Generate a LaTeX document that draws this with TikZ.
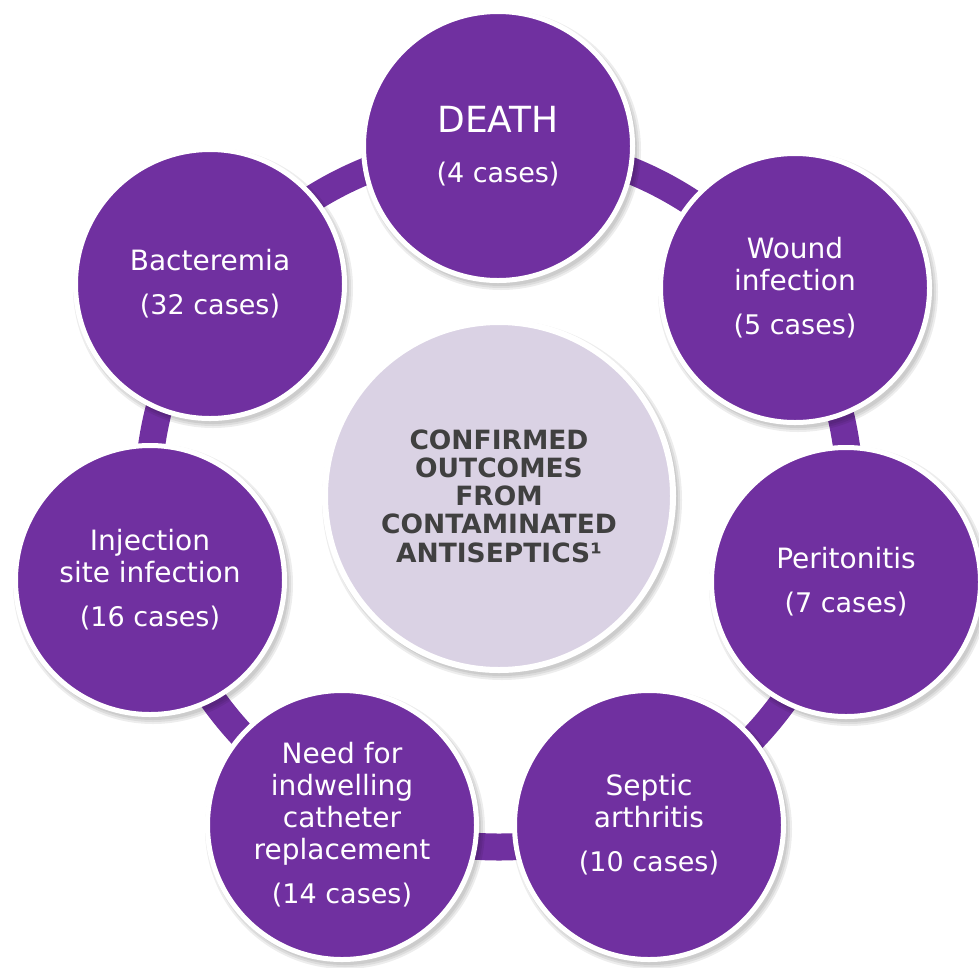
\documentclass[tikz,border=0pt]{standalone}
\usepackage{fontspec}
\setmainfont{DejaVu Sans}
\usetikzlibrary{backgrounds}
\definecolor{purp}{HTML}{7030A0}
\definecolor{lav}{HTML}{DAD2E4}
\definecolor{dtext}{HTML}{404040}
\newcommand\casesline[1]{{\fontsize{27}{32}\selectfont #1}}
\begin{document}
\begin{tikzpicture}[x=1pt,y=-1pt,
  outc/.style={circle, fill=purp, draw=white, line width=5pt, minimum size=269pt,
    inner sep=0pt, text=white, align=center, font=\fontsize{28}{32}\selectfont},
  ctrc/.style={circle, fill=lav, draw=white, line width=6pt, minimum size=348pt, inner sep=0pt,
    text=dtext, align=center, font=\bfseries\fontsize{26.5}{28.3}\selectfont},
  shad/.style={fill=black, opacity=0.07},
  ringline/.style={draw=purp, line width=27pt}]
\useasboundingbox (0,0) rectangle (979,967);

\node[ctrc] (ctr) at (499,496) {CONFIRMED\\OUTCOMES\\FROM\\CONTAMINATED\\ANTISEPTICS¹};
\node[outc] (death) at (498,146) {{\fontsize{36}{40}\selectfont DEATH}\\[18pt]\casesline{(4 cases)}};
\node[outc] (wound) at (795,288) {Wound\\infection\\[12pt]\casesline{(5 cases)}};
\node[outc] (perit) at (846,582) {Peritonitis\\[12pt]\casesline{(7 cases)}};
\node[outc] (septic) at (649,825) {Septic\\arthritis\\[12pt]\casesline{(10 cases)}};
\node[outc] (need) at (342,825) {Need for\\indwelling\\catheter\\replacement\\[12pt]\casesline{(14 cases)}};
\node[outc] (inj) at (150,580) {Injection\\site infection\\[12pt]\casesline{(16 cases)}};
\node[outc] (bact) at (210,284) {Bacteremia\\[12pt]\casesline{(32 cases)}};

\begin{pgfonlayer}{background}
  \draw[ringline] (ctr.center) circle[radius=351];
  \foreach \n/\r in {ctr/177, death/137, wound/137, perit/137, septic/137, need/137, inj/137, bact/137}{
    \foreach \k in {-1,1,3}{
      \fill[shad] ([shift={(3,4)}]\n.center) circle[radius=\r+\k];
    }
  }
\end{pgfonlayer}
\end{tikzpicture}
\end{document}
